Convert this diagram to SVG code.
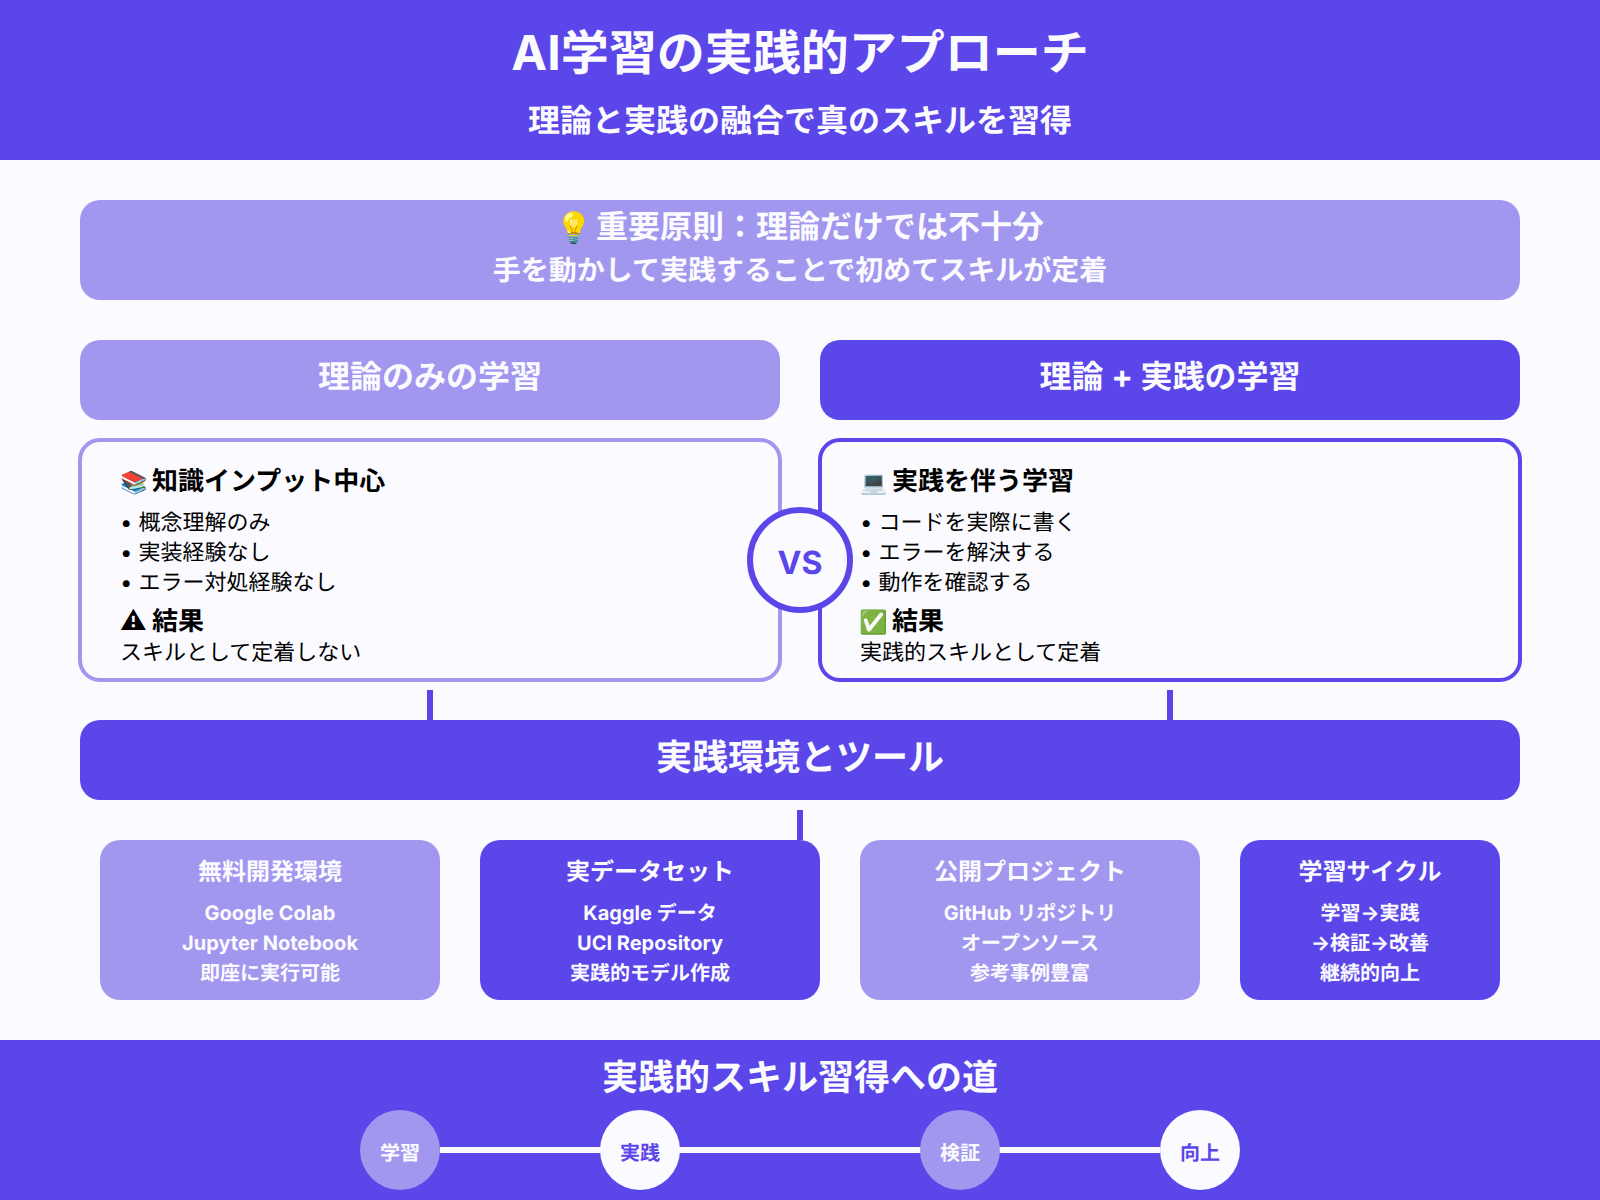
<svg xmlns="http://www.w3.org/2000/svg" width="1600" height="1200" viewBox="0 0 1600 1200">
<style>
text{font-family:Inter,"Noto Sans CJK JP",sans-serif;text-rendering:geometricPrecision}
.c{text-anchor:middle}
.w{fill:#fafaff}
.b{font-weight:700}
.s{font-weight:700}
.p{fill:#5b46ea}
.l{fill:#a297ef}
.h{font-size:26px;font-weight:700;fill:#000}
.t{font-size:22px;fill:#000}
.ct{font-size:24px;font-weight:700;text-anchor:middle;fill:#fafaff}
.cb{font-size:20px;font-weight:700;text-anchor:middle;fill:#fafaff}
.n{font-size:20px;font-weight:700;text-anchor:middle}
.cn{fill:none;stroke:#5b46ea;stroke-width:6}
</style>
<rect width="1600" height="1200" fill="#fafaff"/>
<g id="header">
<rect width="1600" height="160" class="p"/>
<text x="800" y="70" class="c w b" font-size="48">AI学習の実践的アプローチ</text>
<text x="800" y="132" class="c w b" font-size="32">理論と実践の融合で真のスキルを習得</text>
</g>
<g id="principle">
<rect x="80" y="200" width="1440" height="100" rx="20" class="l"/>
<text y="238" class="w b" font-size="32"><tspan x="555" font-size="30">💡</tspan> <tspan x="596">重要原則：理論だけでは不十分</tspan></text>
<text x="800" y="280" class="c w s" font-size="28">手を動かして実践することで初めてスキルが定着</text>
</g>
<g id="connectors">
<line x1="430" y1="690" x2="430" y2="720" class="cn"/>
<line x1="1170" y1="690" x2="1170" y2="720" class="cn"/>
<line x1="800" y1="810" x2="800" y2="840" class="cn"/>
</g>
<g id="theory-header">
<rect x="80" y="340" width="700" height="80" rx="20" class="l"/>
<text x="430" y="388" class="c w b" font-size="32">理論のみの学習</text>
</g>
<g id="practice-header">
<rect x="820" y="340" width="700" height="80" rx="20" class="p"/>
<text x="1170" y="388" class="c w b" font-size="32">理論 + 実践の学習</text>
</g>
<g id="theory-box">
<rect x="80" y="440" width="700" height="240" rx="20" fill="#fafaff" stroke="#a297ef" stroke-width="4"/>
<text y="490" class="h"><tspan x="120" font-size="22">📚</tspan> <tspan x="152">知識インプット中心</tspan></text>
<text x="120" y="530" class="t">• 概念理解のみ</text>
<text x="120" y="560" class="t">• 実装経験なし</text>
<text x="120" y="590" class="t">• エラー対処経験なし</text>
<text y="630" class="h"><tspan x="120">⚠</tspan> <tspan x="152">結果</tspan></text>
<text x="120" y="660" class="t">スキルとして定着しない</text>
</g>
<g id="practice-box">
<rect x="820" y="440" width="700" height="240" rx="20" fill="#fafaff" stroke="#5b46ea" stroke-width="4"/>
<text y="490" class="h"><tspan x="860" font-size="22">💻</tspan> <tspan x="892">実践を伴う学習</tspan></text>
<text x="860" y="530" class="t">• コードを実際に書く</text>
<text x="860" y="560" class="t">• エラーを解決する</text>
<text x="860" y="590" class="t">• 動作を確認する</text>
<text y="630" class="h"><tspan x="859" font-size="23">✅</tspan> <tspan x="892">結果</tspan></text>
<text x="860" y="660" class="t">実践的スキルとして定着</text>
</g>
<g id="vs">
<circle cx="800" cy="560" r="50" fill="#fafaff" stroke="#5b46ea" stroke-width="6"/>
<text x="800" y="574" class="c b p" font-size="32">VS</text>
</g>
<g id="tools-bar">
<rect x="80" y="720" width="1440" height="80" rx="20" class="p"/>
<text x="800" y="770" class="c w b" font-size="36">実践環境とツール</text>
</g>
<g id="card1">
<rect x="100" y="840" width="340" height="160" rx="20" class="l"/>
<text x="270" y="880" class="ct">無料開発環境</text>
<text x="270" y="920" class="cb">Google Colab</text>
<text x="270" y="950" class="cb">Jupyter Notebook</text>
<text x="270" y="980" class="cb">即座に実行可能</text>
</g>
<g id="card2">
<rect x="480" y="840" width="340" height="160" rx="20" class="p"/>
<text x="650" y="880" class="ct">実データセット</text>
<text x="650" y="920" class="cb">Kaggle データ</text>
<text x="650" y="950" class="cb">UCI Repository</text>
<text x="650" y="980" class="cb">実践的モデル作成</text>
</g>
<g id="card3">
<rect x="860" y="840" width="340" height="160" rx="20" class="l"/>
<text x="1030" y="880" class="ct">公開プロジェクト</text>
<text x="1030" y="920" class="cb">GitHub リポジトリ</text>
<text x="1030" y="950" class="cb">オープンソース</text>
<text x="1030" y="980" class="cb">参考事例豊富</text>
</g>
<g id="card4">
<rect x="1240" y="840" width="260" height="160" rx="20" class="p"/>
<text x="1370" y="880" class="ct">学習サイクル</text>
<text x="1370" y="920" class="cb">学習→実践</text>
<text x="1370" y="950" class="cb">→検証→改善</text>
<text x="1370" y="980" class="cb">継続的向上</text>
</g>
<g id="footer">
<rect y="1040" width="1600" height="160" class="p"/>
<text x="800" y="1090" class="c w b" font-size="36">実践的スキル習得への道</text>
</g>
<g id="connector-path">
<line x1="440" y1="1150" x2="1160" y2="1150" stroke="#fafaff" stroke-width="6"/>
</g>
<g id="step1"><circle cx="400" cy="1150" r="40" class="l"/><text x="400" y="1160" class="n w">学習</text></g>
<g id="step2"><circle cx="640" cy="1150" r="40" class="w"/><text x="640" y="1160" class="n p">実践</text></g>
<g id="step3"><circle cx="960" cy="1150" r="40" class="l"/><text x="960" y="1160" class="n w">検証</text></g>
<g id="step4"><circle cx="1200" cy="1150" r="40" class="w"/><text x="1200" y="1160" class="n p">向上</text></g>
</svg>
